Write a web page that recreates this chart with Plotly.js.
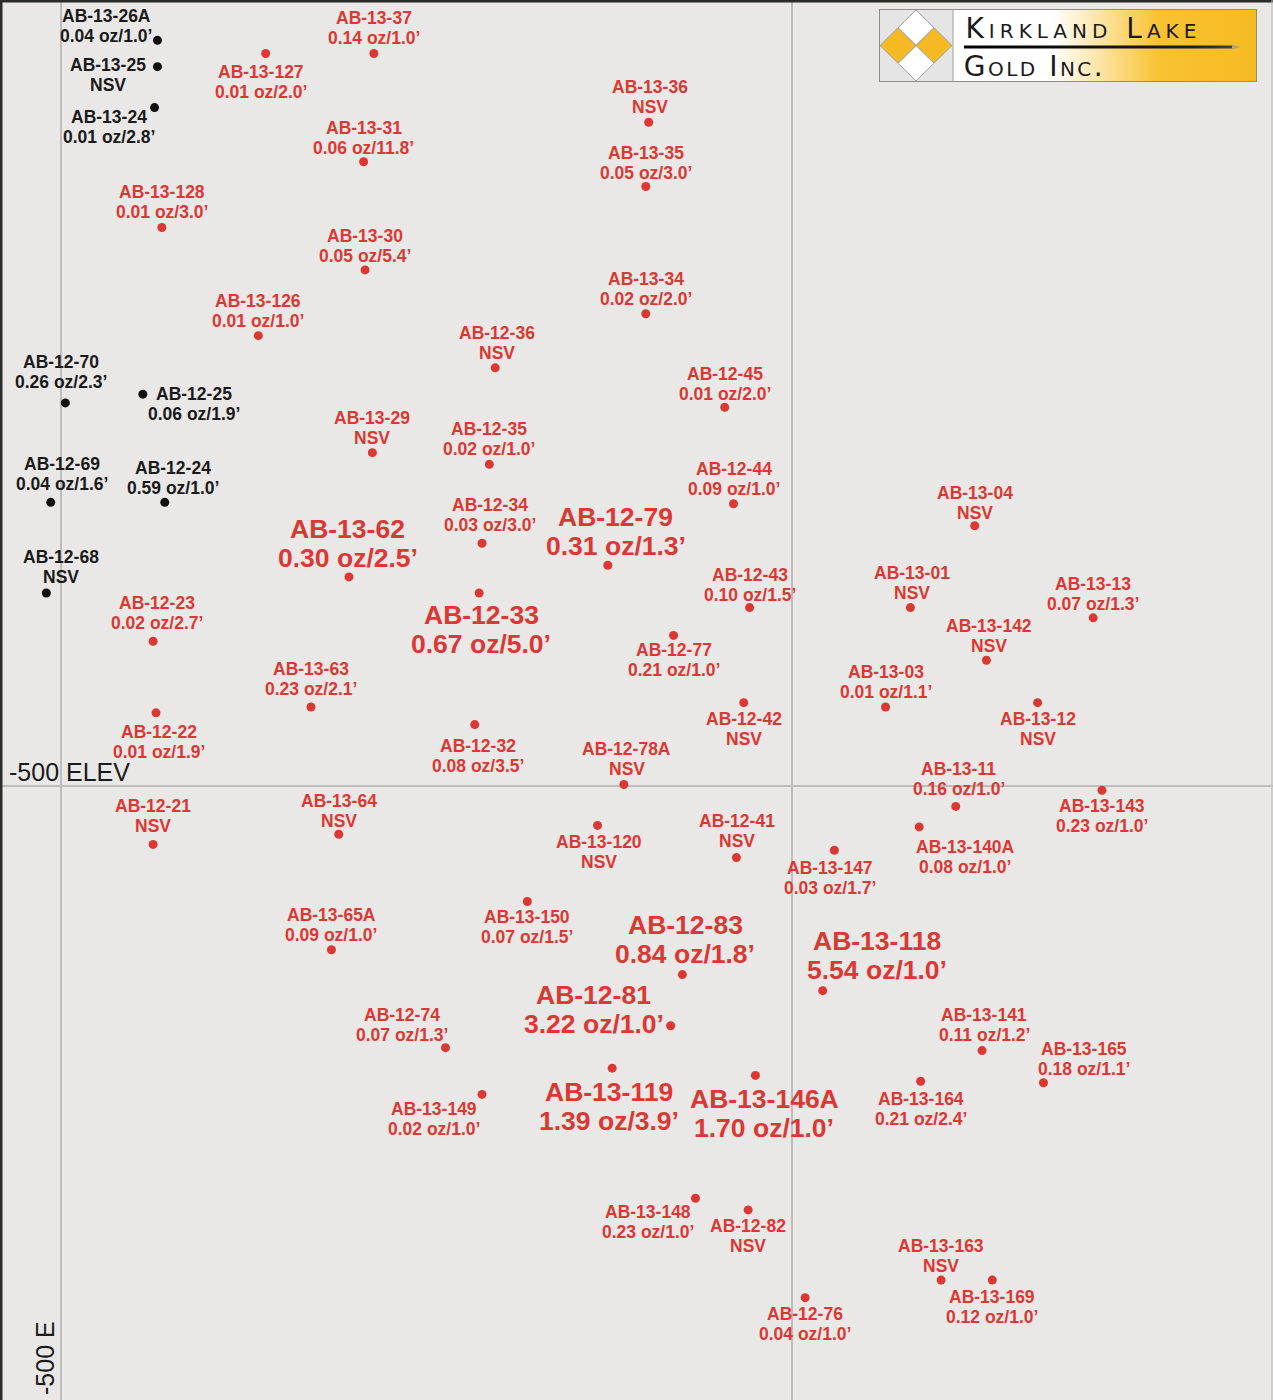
<!DOCTYPE html>
<html>
<head>
<meta charset="utf-8">
<script src="https://cdn.plot.ly/plotly-3.0.1.min.js"></script>
<style>
html,body{margin:0;padding:0;background:#e9e8e7;}
#chart{width:1273px;height:1400px;}
</style>
</head>
<body>
<div id="chart"></div>
<script>
// ---------------- DATA ----------------
const holeIds = [
  "AB-13-26A","AB-13-25","AB-13-24","AB-12-70","AB-12-25","AB-12-69","AB-12-24","AB-12-68",
  "AB-13-37","AB-13-127","AB-13-31","AB-13-128","AB-13-30","AB-13-126","AB-12-36","AB-13-29",
  "AB-12-35","AB-12-34","AB-13-62","AB-12-33","AB-12-79","AB-13-36","AB-13-35","AB-13-34",
  "AB-12-45","AB-12-44","AB-12-43","AB-12-77","AB-12-23","AB-13-63","AB-12-22","AB-12-32",
  "AB-12-78A","AB-12-42","AB-13-04","AB-13-01","AB-13-13","AB-13-142","AB-13-03","AB-13-12",
  "AB-13-11","AB-13-143","AB-13-140A","AB-13-147","AB-12-41","AB-13-120","AB-12-21","AB-13-64",
  "AB-13-65A","AB-13-150","AB-12-83","AB-13-118","AB-12-81","AB-12-74","AB-13-141","AB-13-165",
  "AB-13-119","AB-13-146A","AB-13-149","AB-13-164","AB-13-148","AB-12-82","AB-13-163","AB-13-169",
  "AB-12-76"
];
// gold grade (oz/ton); null = NSV (no significant values)
const gradeOzT = [
  0.04,null,0.01,0.26,0.06,0.04,0.59,null,
  0.14,0.01,0.06,0.01,0.05,0.01,null,null,
  0.02,0.03,0.30,0.67,0.31,null,0.05,0.02,
  0.01,0.09,0.10,0.21,0.02,0.23,0.01,0.08,
  null,null,null,null,0.07,null,0.01,null,
  0.16,0.23,0.08,0.03,null,null,null,null,
  0.09,0.07,0.84,5.54,3.22,0.07,0.11,0.18,
  1.39,1.70,0.02,0.21,0.23,null,null,0.12,
  0.04
];
// intercept width (ft)
const widthFt = [
  1.0,null,2.8,2.3,1.9,1.6,1.0,null,
  1.0,2.0,11.8,3.0,5.4,1.0,null,null,
  1.0,3.0,2.5,5.0,1.3,null,3.0,2.0,
  2.0,1.0,1.5,1.0,2.7,2.1,1.9,3.5,
  null,null,null,null,1.3,null,1.1,null,
  1.0,1.0,1.0,1.7,null,null,null,null,
  1.0,1.5,1.8,1.0,1.0,1.3,1.2,1.1,
  3.9,1.0,1.0,2.4,1.0,null,null,1.0,
  1.0
];
// pierce point easting (ft)
const eastFt = [
  -434,-434,-436,-497,-444,-507,-429,-510,
  -286,-360,-293,-431,-292,-365,-203,-287,
  -207,-212,-303,-214,-126,-98,-100,-100,
  -46,-40,-29,-81,-437,-329,-435,-217,
  -115,-33,125,81,206,133,64,168,
  112,212,87,29,-38,-133,-437,-310,
  -315,-181,-75,21,-83,-237,130,172,
  -123,-25,-212,88,-66,-30,102,137,
  9
];
// pierce point elevation (ft)
const elevFt = [
  10,-8,-36,-238,-232,-306,-306,-368,
  1,1,-73,-118,-147,-192,-214,-272,
  -280,-334,-357,-368,-349,-46,-90,-177,
  -241,-307,-378,-397,-401,-446,-450,-458,
  -499,-443,-322,-378,-385,-414,-446,-443,
  -514,-503,-528,-544,-549,-527,-540,-533,
  -612,-579,-629,-640,-664,-679,-681,-703,
  -693,-698,-711,-702,-782,-790,-838,-838,
  -850
];
// previously reported holes (drawn in black)
const priorHole = [
  true,true,true,true,true,true,true,true,
  false,false,false,false,false,false,false,false,
  false,false,false,false,false,false,false,false,
  false,false,false,false,false,false,false,false,
  false,false,false,false,false,false,false,false,
  false,false,false,false,false,false,false,false,
  false,false,false,false,false,false,false,false,
  false,false,false,false,false,false,false,false,
  false
];

// ---------------- LABEL PLACEMENT (pixel offsets from dot) ----------------
const labelDx = [
  -51,-49,-46,-4,51,11,8,15,
  0,-5,0,0,0,0,2,0,
  0,8,-1,2,8,1,0,0,
  0,0,0,0,4,0,3,3,
  3,0,0,2,0,3,0,0,
  3,0,46,-4,1,1,0,0,
  0,0,3,54,-77,-43,2,41,
  -3,9,-48,0,-47,0,0,0,
  0
];
const labelDy = [
  24,2,-9,41,0,38,34,36,
  36,-18,34,35,34,35,35,35,
  35,38,48,-22,48,35,34,35,
  33,35,33,-15,38,38,-19,-21,
  36,-16,33,35,34,34,35,-16,
  37,-16,-20,-18,37,-17,38,33,
  35,-16,50,50,31,33,36,34,
  -24,-24,-15,-18,-14,-16,34,-17,
  -16
];

// ---------------- STYLE ----------------
const RED = "#dc3833";
const BLACK = "#1a1a1a";
const FONT = "Liberation Sans, Arial, sans-serif";

function valueText(i) {
  if (gradeOzT[i] === null) return "NSV";
  return gradeOzT[i].toFixed(2) + " oz/" + widthFt[i].toFixed(1) + "\u2019";
}
function isBig(i) { return !priorHole[i] && gradeOzT[i] !== null && gradeOzT[i] >= 0.30; }

const idxPrior = holeIds.map((_, i) => i).filter(i => priorHole[i]);
const idxNew = holeIds.map((_, i) => i).filter(i => !priorHole[i]);

const traces = [
  {
    type: "scatter", mode: "markers",
    x: idxNew.map(i => eastFt[i]), y: idxNew.map(i => elevFt[i]),
    text: idxNew.map(i => holeIds[i]),
    marker: {size: 9, color: RED}, hoverinfo: "text", showlegend: false
  },
  {
    type: "scatter", mode: "markers",
    x: idxPrior.map(i => eastFt[i]), y: idxPrior.map(i => elevFt[i]),
    text: idxPrior.map(i => holeIds[i]),
    marker: {size: 9, color: "#111111"}, hoverinfo: "text", showlegend: false
  }
];

const annotations = [];
holeIds.forEach((id, i) => {
  const big = isBig(i);
  const fs = big ? 26.5 : 17.5;
  const gap = big ? 29 : 20;
  const col = priorHole[i] ? BLACK : RED;
  const base = {
    x: eastFt[i], y: elevFt[i], xref: "x", yref: "y",
    showarrow: false, xanchor: "center", yanchor: "middle", borderpad: 0,
    xshift: labelDx[i],
    font: {family: FONT, size: fs, color: col, weight: 700}
  };
  annotations.push(Object.assign({}, base, {text: id, yshift: labelDy[i]}));
  annotations.push(Object.assign({}, base, {text: valueText(i), yshift: labelDy[i] - gap}));
});

// axis labels
annotations.push({
  text: "-500 ELEV", xref: "paper", x: 8 / 1273, xanchor: "left",
  yref: "y", y: -500, yshift: 14, yanchor: "middle", showarrow: false, borderpad: 0,
  font: {family: FONT, size: 25, color: BLACK}
});
annotations.push({
  text: "-500 E", xref: "x", x: -500, xshift: -16, xanchor: "center",
  yref: "paper", y: 1 - 1358 / 1400, yanchor: "middle", textangle: -90, showarrow: false, borderpad: 0,
  font: {family: FONT, size: 25, color: BLACK}
});
// logo text
annotations.push({
  text: "Kirkland Lake", xref: "paper", x: 1083 / 1273, xanchor: "center",
  yref: "paper", y: 1 - 29 / 1400, yanchor: "middle", showarrow: false, borderpad: 0,
  font: {family: "DejaVu Sans", size: 28, color: "#1a1a1a", variant: "small-caps"}
});
annotations.push({
  text: "Gold Inc.", xref: "paper", x: 1034 / 1273, xanchor: "center",
  yref: "paper", y: 1 - 66 / 1400, yanchor: "middle", showarrow: false, borderpad: 0,
  font: {family: "DejaVu Sans", size: 28, color: "#1a1a1a", variant: "small-caps"}
});

const logoSvg =
'<svg xmlns="http://www.w3.org/2000/svg" width="378" height="73" viewBox="0 0 378 73" preserveAspectRatio="none">' +
'<defs><linearGradient id="g" x1="0" x2="1" y1="0" y2="0">' +
'<stop offset="0" stop-color="#ffffff"/><stop offset="0.33" stop-color="#ffffff"/>' +
'<stop offset="0.68" stop-color="#f8c231"/><stop offset="1" stop-color="#f6bb22"/></linearGradient>' +
'<linearGradient id="a" x1="0" x2="1" y1="0" y2="0"><stop offset="0" stop-color="#000"/>' +
'<stop offset="0.85" stop-color="#1e1e1e"/><stop offset="1" stop-color="#444"/></linearGradient></defs>' +
'<rect x="0.5" y="0.5" width="377" height="72" fill="#e5e5e5" stroke="#8c8c8c"/>' +
'<rect x="74" y="1" width="303" height="71" fill="url(#g)"/>' +
'<line x1="74" y1="1" x2="74" y2="72" stroke="#a0a0a0"/>' +
'<polygon points="37,1 55,18.75 37,36.5 19,18.75" fill="#ffffff" stroke="#a0a0a0"/>' +
'<polygon points="55,18.75 73,36.5 55,54.25 37,36.5" fill="#f5b923" stroke="#a0a0a0"/>' +
'<polygon points="37,36.5 55,54.25 37,72 19,54.25" fill="#ffffff" stroke="#a0a0a0"/>' +
'<polygon points="19,18.75 37,36.5 19,54.25 1,36.5" fill="#f5b923" stroke="#a0a0a0"/>' +
'<rect x="85" y="36.5" width="268" height="3" fill="url(#a)"/>' +
'<polygon points="353,35.5 362,38 353,40.5" fill="#b9a46a"/>' +
'</svg>';

const layout = {
  width: 1273, height: 1400,
  margin: {l: 0, r: 0, t: 0, b: 0, pad: 0},
  paper_bgcolor: "#e9e8e7", plot_bgcolor: "#e9e8e7",
  showlegend: false,
  xaxis: {
    range: [-541.7, 329.0], tickvals: [-500, 0], showticklabels: false, ticks: "",
    showgrid: true, gridcolor: "#bdbdbd", gridwidth: 1.5, zeroline: false, showline: false, fixedrange: true
  },
  yaxis: {
    range: [-920.0, 37.6], tickvals: [-500], showticklabels: false, ticks: "",
    showgrid: true, gridcolor: "#bdbdbd", gridwidth: 1.5, zeroline: false, showline: false, fixedrange: true
  },
  annotations: annotations,
  images: [{
    source: "data:image/svg+xml;charset=utf-8," + encodeURIComponent(logoSvg),
    xref: "paper", yref: "paper", x: 879 / 1273, y: 1 - 9 / 1400,
    sizex: 378 / 1273, sizey: 73 / 1400, xanchor: "left", yanchor: "top",
    sizing: "stretch", layer: "above"
  }],
  shapes: [
    {type: "line", xref: "paper", yref: "paper", x0: 0, x1: 1, y0: 1, y1: 1, line: {color: "#2b2b2b", width: 5}},
    {type: "line", xref: "paper", yref: "paper", x0: 0, x1: 0, y0: 0, y1: 1, line: {color: "#2b2b2b", width: 5}},
    {type: "line", xref: "paper", yref: "paper", x0: 1272 / 1273, x1: 1272 / 1273, y0: 0, y1: 1, line: {color: "#b5b5b5", width: 1}}
  ]
};

Plotly.newPlot("chart", traces, layout, {displayModeBar: false, staticPlot: true}).then(() => {
  document.querySelectorAll(".annotation-text").forEach(t => {
    if (t.textContent === "Kirkland Lake") t.style.letterSpacing = "5px";
    if (t.textContent === "Gold Inc.") t.style.letterSpacing = "2.5px";
  });
});
</script>
</body>
</html>
